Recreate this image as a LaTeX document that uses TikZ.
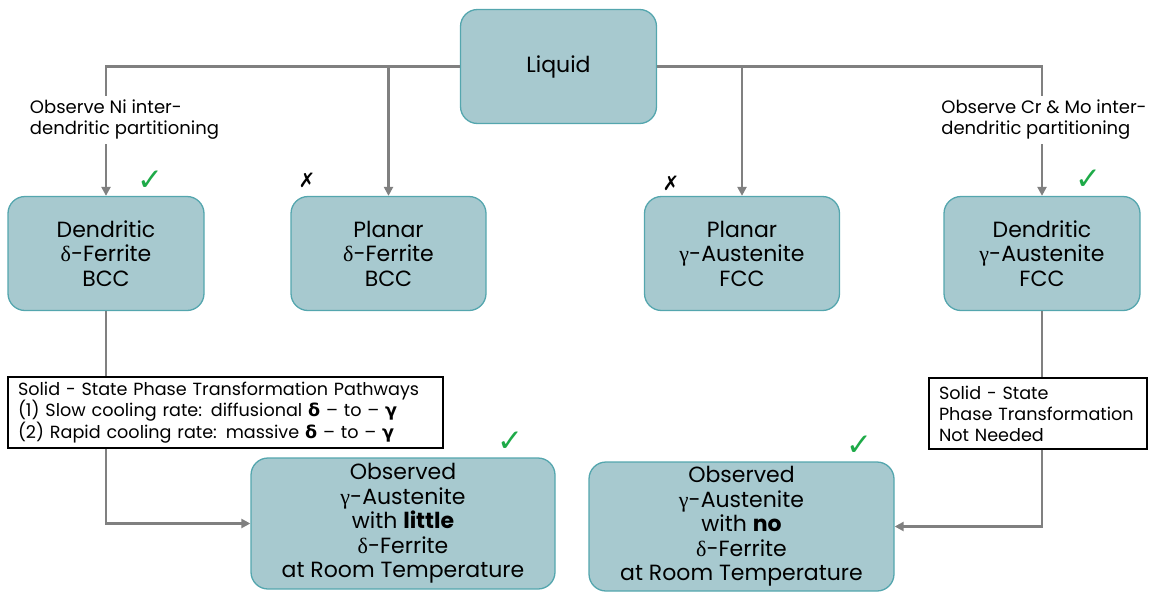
\documentclass[tikz,border=0pt]{standalone}
\usepackage{fontspec}
\setmainfont{Poppins}
\newfontfamily\dvs{DejaVu Sans}
\newfontfamily\lsf{Liberation Serif}
\usetikzlibrary{arrows.meta}
\definecolor{phfill}{RGB}{167,201,207}
\definecolor{phline}{RGB}{84,166,174}
\definecolor{cngray}{RGB}{128,128,128}
\definecolor{okgreen}{RGB}{30,170,72}
\tikzstyle{phs}=[draw=phline,fill=phfill,line width=1.3pt,rounded corners=17pt,align=center,inner sep=0pt,font=\fontsize{22}{24.5}\selectfont]
\tikzstyle{txb}=[draw=black,fill=white,line width=1.2pt,align=left,inner sep=0pt,font=\fontsize{17.6}{21}\selectfont]
\tikzstyle{lbl}=[fill=white,align=left,inner xsep=2pt,inner ysep=4pt,font=\fontsize{18}{21}\selectfont]
\tikzstyle{cn}=[draw=cngray,line width=2.7pt,-{Triangle[length=9pt,width=9pt]}]
\tikzstyle{ok}=[text=okgreen,inner sep=0pt,font=\dvs\fontsize{31}{31}\selectfont]
\tikzstyle{nok}=[inner sep=0pt,font=\dvs\fontsize{20}{20}\selectfont]
\newcommand{\bgr}[1]{{\dvs\bfseries #1}}
\newcommand{\gr}[1]{{\lsf #1}}

\begin{document}
\begin{tikzpicture}[x=1pt,y=-1pt]
  \useasboundingbox (0,0) rectangle (1157,592);
  % phase boxes
  \node [phs,minimum width=196pt,minimum height=114pt] (liq) at (558.5,66.5) {Liquid};
  \node [phs,minimum width=196pt,minimum height=114pt] (dfer) at (106,253.5) {Dendritic\\\gr{δ}-Ferrite\\BCC};
  \node [phs,minimum width=195pt,minimum height=114pt] (pfer) at (388.5,253.5) {Planar\\\gr{δ}-Ferrite\\BCC};
  \node [phs,minimum width=195pt,minimum height=114pt] (paus) at (742,253.5) {Planar\\\gr{γ}-Austenite\\FCC};
  \node [phs,minimum width=196pt,minimum height=114pt] (daus) at (1042,253.5) {Dendritic\\\gr{γ}-Austenite\\FCC};
  \node [phs,minimum width=304pt,minimum height=131pt] (obsa) at (403,523.5) {Observed\\\gr{γ}-Austenite\\with \textbf{little}\\\gr{δ}-Ferrite\\at Room Temperature};
  \node [phs,minimum width=305pt,minimum height=129pt] (obsb) at (741.5,526.5) {Observed\\\gr{γ}-Austenite\\with \textbf{no}\\\gr{δ}-Ferrite\\at Room Temperature};
  % connectors
  \draw [cn] (liq.west) -| (dfer.north);
  \draw [cn] (liq.west -| pfer.north) -- (pfer.north);
  \draw [cn] (liq.east -| paus.north) -- (paus.north);
  \draw [cn] (liq.east) -| (daus.north);
  \draw [cn] (dfer.south) |- (obsa.west);
  \draw [cn] (daus.south) |- (obsb.east);
  % labels and pathway boxes
  \node [lbl] (nilbl) at (124.5,120) {Observe Ni inter-\\dendritic partitioning};
  \node [lbl] (crlbl) at (1044,120) {Observe Cr \& Mo inter-\\dendritic partitioning};
  \node [txb,minimum width=435pt,minimum height=71pt,text width=415pt] (ssa) at (225.5,412.5) {Solid - State Phase Transformation Pathways\\(1) Slow cooling rate: diffusional \bgr{δ} – to – \bgr{γ}\\(2) Rapid cooling rate: massive \bgr{δ} – to – \bgr{γ}};
  \node [txb,minimum width=218pt,minimum height=71pt,text width=198pt] (ssb) at (1038,413.5) {Solid - State\\Phase Transformation\\Not Needed};
  % marks
  \node [ok] (oka) at (150,181) {✓};
  \node [ok] (okb) at (1088,180) {✓};
  \node [ok] (okc) at (510,442) {✓};
  \node [ok] (okd) at (859,446) {✓};
  \node [nok] (noa) at (307,180) {✗};
  \node [nok] (nob) at (671,183) {✗};
\end{tikzpicture}
\end{document}
